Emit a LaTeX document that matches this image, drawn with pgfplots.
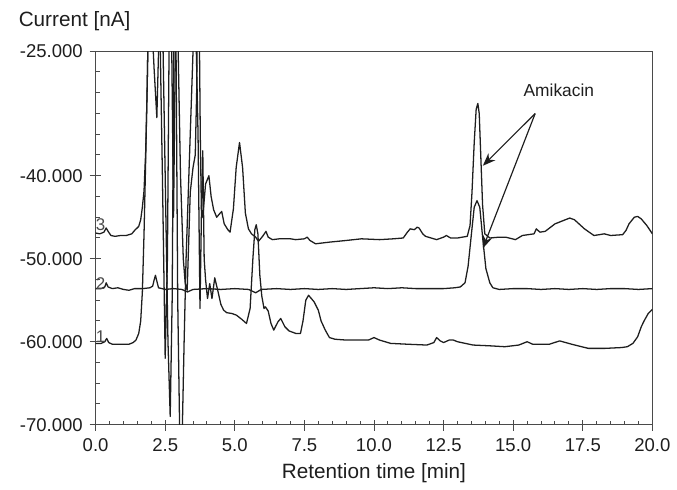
\documentclass[border=0pt]{standalone}
\usepackage{fontspec}
\setmainfont{Liberation Sans}
\usepackage{pgfplots}
\pgfplotsset{compat=1.18}
\usetikzlibrary{arrows.meta}

\definecolor{ink}{HTML}{1E1E1E}
\definecolor{frame}{HTML}{4A4A4A}

% trace 1 (bottom)
\pgfplotstableread{
x y
0.00 -60.2
0.20 -60.2
0.33 -60.0
0.40 -59.6
0.47 -60.1
0.60 -60.3
0.90 -60.3
1.20 -60.3
1.35 -60.1
1.45 -59.8
1.55 -59.0
1.62 -57.5
1.68 -54.0
1.74 -47.0
1.80 -38.0
1.86 -28.0
1.90 -20.0
2.00 -20.0
2.10 -27.0
2.20 -33.0
2.30 -20.0
2.40 -20.0
2.50 -40.0
2.60 -60.0
2.68 -69.0
2.75 -55.0
2.82 -20.0
2.88 -20.0
2.95 -55.0
3.03 -73.0
3.10 -73.0
3.18 -60.0
3.25 -50.0
3.35 -40.0
3.45 -30.0
3.55 -20.0
3.60 -22.0
3.68 -35.0
3.75 -56.0
3.80 -45.0
3.85 -37.0
3.90 -50.0
3.95 -52.5
4.02 -54.8
4.10 -53.0
4.18 -54.8
4.28 -52.3
4.40 -54.0
4.50 -55.5
4.60 -56.2
4.71 -56.5
4.90 -56.6
5.06 -56.8
5.25 -57.3
5.42 -57.8
5.55 -56.0
5.65 -50.0
5.72 -46.5
5.77 -45.9
5.83 -47.0
5.90 -52.0
5.97 -54.5
6.05 -56.0
6.10 -55.8
6.20 -56.3
6.30 -57.8
6.40 -58.6
6.55 -57.6
6.65 -57.2
6.80 -58.2
6.95 -58.7
7.19 -59.0
7.36 -59.0
7.45 -57.5
7.55 -55.0
7.65 -54.4
7.75 -54.8
7.85 -55.2
8.00 -56.2
8.10 -57.5
8.25 -58.6
8.40 -59.5
8.60 -59.7
9.00 -59.8
9.40 -59.8
9.80 -59.8
10.00 -59.5
10.20 -59.8
10.60 -60.2
11.20 -60.3
11.90 -60.4
12.15 -60.1
12.25 -59.5
12.38 -59.9
12.50 -60.1
12.70 -59.8
12.85 -59.8
13.00 -60.0
13.56 -60.4
14.20 -60.5
14.70 -60.6
15.20 -60.4
15.50 -60.0
15.70 -60.3
16.30 -60.3
16.67 -59.9
17.10 -60.3
17.70 -60.8
18.30 -60.8
18.90 -60.7
19.10 -60.6
19.30 -60.2
19.47 -59.4
19.60 -58.2
19.70 -57.5
19.85 -56.6
20.00 -56.1
}\traceone

% trace 2 (middle)
\pgfplotstableread{
x y
0.00 -53.6
0.20 -53.6
0.33 -53.4
0.38 -52.9
0.45 -53.4
0.60 -53.6
0.80 -53.5
1.00 -53.7
1.20 -53.8
1.40 -53.6
1.70 -53.6
1.95 -53.5
2.05 -53.3
2.10 -52.6
2.15 -52.0
2.20 -52.7
2.26 -53.5
2.50 -53.7
2.80 -53.6
3.10 -53.7
3.30 -54.0
3.50 -53.7
4.00 -53.6
4.50 -53.7
5.00 -53.6
5.50 -53.7
5.75 -54.1
5.95 -53.7
6.50 -53.6
7.00 -53.7
7.50 -53.6
8.00 -53.7
8.50 -53.6
9.00 -53.7
9.50 -53.6
10.00 -53.5
10.50 -53.6
11.00 -53.5
11.50 -53.6
12.00 -53.6
12.50 -53.6
12.90 -53.5
13.10 -53.4
13.27 -52.9
13.38 -50.9
13.50 -47.0
13.60 -43.8
13.70 -43.0
13.80 -43.8
13.91 -47.7
14.02 -51.2
14.16 -52.9
14.27 -53.5
14.50 -53.7
15.00 -53.6
15.50 -53.6
16.00 -53.7
16.50 -53.6
17.00 -53.7
17.50 -53.6
18.00 -53.7
18.50 -53.6
19.00 -53.6
19.50 -53.7
20.00 -53.6
}\tracetwo

% trace 3 (top)
\pgfplotstableread{
x y
0.00 -46.9
0.15 -47.0
0.30 -46.8
0.38 -46.3
0.45 -46.7
0.55 -47.2
0.70 -47.3
0.90 -47.2
1.10 -47.2
1.30 -47.0
1.40 -46.6
1.55 -46.1
1.62 -45.3
1.68 -43.8
1.74 -41.8
1.80 -37.0
1.85 -30.0
1.90 -20.0
2.30 -20.0
2.40 -40.0
2.50 -62.0
2.58 -50.0
2.65 -20.0
2.72 -20.0
2.80 -45.0
2.88 -20.0
2.95 -22.0
3.05 -40.0
3.15 -50.0
3.22 -53.0
3.29 -53.8
3.40 -42.0
3.50 -39.0
3.58 -37.5
3.63 -30.0
3.66 -20.0
3.72 -20.0
3.76 -35.0
3.80 -44.0
3.85 -45.0
3.95 -41.0
4.07 -40.0
4.15 -42.5
4.24 -44.1
4.35 -45.0
4.45 -44.6
4.53 -44.3
4.62 -45.8
4.75 -46.5
4.83 -46.8
4.95 -44.0
5.05 -39.0
5.17 -36.0
5.28 -39.0
5.38 -44.5
5.49 -46.4
5.60 -47.0
5.75 -47.4
5.85 -47.9
6.00 -47.3
6.12 -46.7
6.20 -47.4
6.35 -47.7
6.60 -47.6
7.00 -47.6
7.19 -47.7
7.50 -47.6
7.60 -47.4
7.70 -47.8
7.90 -48.2
8.40 -48.0
9.00 -47.8
9.55 -47.6
10.20 -47.7
10.70 -47.6
11.05 -47.5
11.20 -46.8
11.30 -46.4
11.45 -46.5
11.55 -46.2
11.62 -46.3
11.75 -47.0
11.85 -47.3
12.25 -47.7
12.50 -47.4
12.60 -47.2
12.75 -47.5
13.00 -47.5
13.35 -47.3
13.45 -46.0
13.52 -42.0
13.60 -36.0
13.67 -32.0
13.73 -31.3
13.78 -32.5
13.84 -38.0
13.90 -43.5
13.98 -47.0
14.16 -47.5
14.50 -47.4
14.73 -47.4
15.08 -47.7
15.33 -47.2
15.75 -47.0
15.83 -46.4
15.96 -46.8
16.15 -46.7
16.50 -45.8
16.80 -45.4
17.03 -45.1
17.20 -45.3
17.56 -46.4
17.90 -47.2
18.10 -47.1
18.27 -47.0
18.50 -47.2
18.93 -47.1
19.05 -46.6
19.16 -45.8
19.35 -45.0
19.47 -44.9
19.60 -45.2
19.80 -46.0
20.00 -47.0
}\tracethree

\begin{document}
\begin{tikzpicture}
\begin{axis}[
    name=ax,
    scale only axis,
    width=282.5pt, height=189.5pt,
    xmin=0, xmax=20,
    ymin=-70, ymax=-25,
    axis line style={frame, line width=0.6pt},
    xtick pos=bottom, ytick pos=left,
    xtick={0,2.5,...,20},
    minor xtick={0,0.5,...,20},
    ytick={-70,-60,-50,-40,-25},
    minor ytick={-70,-67.5,...,-25},
    tick align=inside,
    major tick length=2.5pt,
    minor tick length=2pt,
    tick style={frame, line width=0.5pt},
    extra x ticks={0,2.5,...,20},
    extra x tick labels={},
    extra y ticks={-70,-60,-50,-40,-25},
    extra y tick labels={},
    extra tick style={tick align=outside, major tick length=3pt},
    /pgf/number format/assume math mode=true,
    xticklabel style={/pgf/number format/fixed, /pgf/number format/fixed zerofill,
                      /pgf/number format/precision=1, yshift=-3.5pt},
    yticklabel style={/pgf/number format/fixed, /pgf/number format/fixed zerofill,
                      /pgf/number format/precision=3, xshift=-3pt},
    ticklabel style={font=\fontsize{9.4}{11}\selectfont, text=ink},
    clip=true,
]
\addplot[ink, line width=0.65pt, line join=round] table {\traceone};
\addplot[ink, line width=0.65pt, line join=round] table {\tracetwo};
\addplot[ink, line width=0.65pt, line join=round] table {\tracethree};

\node[text=ink!80, font=\fontsize{8.6}{10}\selectfont] at (axis cs:0.18,-45.9) {3};
\node[text=ink!80, font=\fontsize{8.6}{10}\selectfont] at (axis cs:0.18,-53.0) {2};
\node[text=ink!80, font=\fontsize{8.6}{10}\selectfont] at (axis cs:0.18,-59.4) {1};

\draw[ink, line width=0.6pt, -{Stealth[length=6.5pt,width=5pt]}] (axis cs:15.79,-32.5) -- (axis cs:13.91,-38.8);
\draw[ink, line width=0.6pt, -{Stealth[length=6.5pt,width=5pt]}] (axis cs:15.79,-32.5) -- (axis cs:13.91,-48.75);
\node[text=ink, font=\fontsize{8.8}{10}\selectfont] at (axis cs:16.64,-29.75) {Amikacin};
\end{axis}
\node[anchor=base west, text=ink, font=\fontsize{10.5}{12}\selectfont]
  at ([shift={(-42.5pt,12.5pt)}]ax.north west) {Current [nA]};
\node[text=ink, font=\fontsize{10.5}{12}\selectfont]
  at ([shift={(0pt,-24.5pt)}]ax.south) {Retention time [min]};
\path ([shift={(-48.5pt,-31.5pt)}]ax.south west) rectangle ([shift={(7.5pt,26pt)}]ax.north east);
\end{tikzpicture}
\end{document}
